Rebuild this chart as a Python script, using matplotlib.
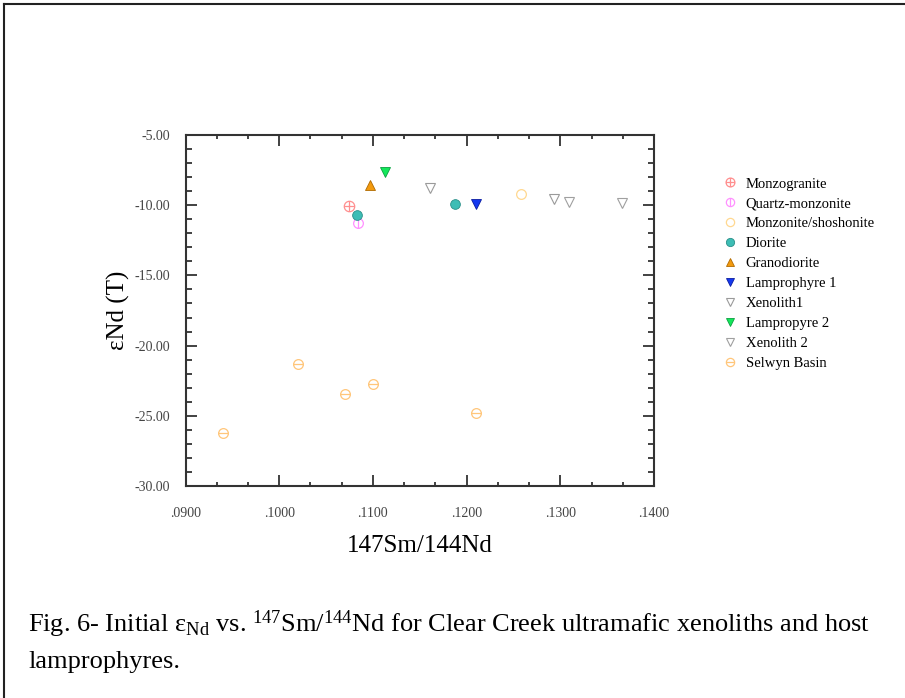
import numpy as np
import matplotlib
matplotlib.use('Agg')
import matplotlib.pyplot as plt
from matplotlib.path import Path
from matplotlib.lines import Line2D
from matplotlib.ticker import MultipleLocator, AutoMinorLocator, FormatStrFormatter, FuncFormatter

plt.rcParams['font.family'] = ['Liberation Serif', 'DejaVu Serif']
plt.rcParams['mathtext.fontset'] = 'custom'
plt.rcParams['mathtext.rm'] = 'Liberation Serif'
plt.rcParams['mathtext.it'] = 'Liberation Serif:italic'

#---------------------------------------------------------------------------------------
# Data  (x = 147Sm/144Nd, y = eNd(T))
#---------------------------------------------------------------------------------------
monzogranite_x = [0.1074]
monzogranite_y = [-10.06]
qtz_monzonite_x = [0.1084]
qtz_monzonite_y = [-11.27]
monzonite_x = [0.1258]
monzonite_y = [-9.23]
diorite_x = [0.1083, 0.1188]
diorite_y = [-10.72, -9.89]
granodiorite_x = [0.1097]
granodiorite_y = [-8.56]
lamp1_x = [0.1210]
lamp1_y = [-9.89]
xeno1_x = [0.1161, 0.1293]
xeno1_y = [-8.80, -9.56]
lamp2_x = [0.1113]
lamp2_y = [-7.66]
xeno2_x = [0.1309, 0.1366]
xeno2_y = [-9.80, -9.87]
selwyn_x = [0.1020, 0.1100, 0.1070, 0.1210, 0.0940]
selwyn_y = [-21.33, -22.73, -23.42, -24.82, -26.25]

# circle markers with a cross / bar through them
circ = Path.unit_circle()
hbar = Path([[-1, 0], [1, 0]], [Path.MOVETO, Path.LINETO])
vbar = Path([[0, -1], [0, 1]], [Path.MOVETO, Path.LINETO])
m_plus = Path.make_compound_path(circ, hbar, vbar)
m_vbar = Path.make_compound_path(circ, vbar)
m_hbar = Path.make_compound_path(circ, hbar)

series = [
	('Monzogranite', monzogranite_x, monzogranite_y, dict(marker=m_plus, mfc='none', mec='#ff8f8f', ms=7.5, mew=0.9)),
	('Quartz-monzonite', qtz_monzonite_x, qtz_monzonite_y, dict(marker=m_vbar, mfc='none', mec='#ff90ff', ms=7, mew=0.9)),
	('Monzonite/shoshonite', monzonite_x, monzonite_y, dict(marker='o', mfc='none', mec='#ffd890', ms=7, mew=0.9)),
	('Diorite', diorite_x, diorite_y, dict(marker='o', mfc='#3dbdb5', mec='#2a8f88', ms=7, mew=0.6)),
	('Granodiorite', granodiorite_x, granodiorite_y, dict(marker='^', mfc='#f39a0e', mec='#b06a00', ms=7.5, mew=0.6)),
	('Lamprophyre 1', lamp1_x, lamp1_y, dict(marker='v', mfc='#1438f0', mec='#0a1ca0', ms=7.5, mew=0.6)),
	('Xenolith1', xeno1_x, xeno1_y, dict(marker='v', mfc='none', mec='#9a9a9a', ms=7.5, mew=0.8)),
	('Lampropyre 2', lamp2_x, lamp2_y, dict(marker='v', mfc='#12e85a', mec='#0aa040', ms=7.5, mew=0.6)),
	('Xenolith 2', xeno2_x, xeno2_y, dict(marker='v', mfc='none', mec='#a0a0a0', ms=7.5, mew=0.8)),
	('Selwyn Basin', selwyn_x, selwyn_y, dict(marker=m_hbar, mfc='none', mec='#ffc67a', ms=7, mew=0.9)),
]

fig = plt.figure(figsize=(9.05, 6.98), dpi=100)
ax = fig.add_axes([0.205, 0.3037, 0.5177, 0.5029])

for name, xs, ys, style in series :
	ax.plot(xs, ys, linestyle='none', label=name, **style)

ax.set_xlim(0.09, 0.14)
ax.set_ylim(-30, -5)
ax.xaxis.set_major_locator(MultipleLocator(0.01))
ax.xaxis.set_minor_locator(AutoMinorLocator(3))
ax.yaxis.set_major_locator(MultipleLocator(5))
ax.yaxis.set_minor_locator(AutoMinorLocator(5))
ax.xaxis.set_major_formatter(FuncFormatter(lambda v, p : '{0:.4f}'.format(v)[1:]))
ax.yaxis.set_major_formatter(FormatStrFormatter('%.2f'))

ax.tick_params(which='both', direction='in', top=True, right=True, color='#333333', width=1.3)
ax.tick_params(which='major', length=8, labelsize=10, labelcolor='#444444')
ax.tick_params(axis='y', which='minor', length=4.5)
ax.tick_params(axis='x', which='minor', length=3)
ax.tick_params(axis='y', which='major', pad=11)
ax.tick_params(axis='x', which='major', pad=15)
for sp in ax.spines.values() :
	sp.set_linewidth(1.5)
	sp.set_color('#333333')

ax.set_xlabel('147Sm/144Nd', fontsize=18, labelpad=11)
ax.set_ylabel('\u03b5Nd (T)', fontsize=18, labelpad=3)

fig.legend(loc='upper left', bbox_to_anchor=(0.799, 0.746), frameon=False,
	fontsize=10.5, handlelength=1.0, handletextpad=0.55, labelspacing=0.46,
	borderpad=0, borderaxespad=0, numpoints=1, markerscale=0.85)

# caption under the chart
fig.text(0.031, 1 - 632/698, '\u03b5$_{\\rm Nd}$'.join(['Fig. 6- Initial ', r' vs. $^{147}$Sm/$^{144}$Nd for Clear Creek ultramafic xenoliths and host']),
	fontsize=19, va='baseline', ha='left')
fig.text(0.031, 1 - 668/698, 'lamprophyres.', fontsize=19, va='baseline', ha='left')

# box border (top and left edges only)
fig.add_artist(Line2D([4/905, 4/905], [0, 1 - 4/698], transform=fig.transFigure, color='#222222', lw=1.5))
fig.add_artist(Line2D([4/905, 1], [1 - 4/698, 1 - 4/698], transform=fig.transFigure, color='#222222', lw=1.5))

fig.savefig('out.png', dpi=100)
